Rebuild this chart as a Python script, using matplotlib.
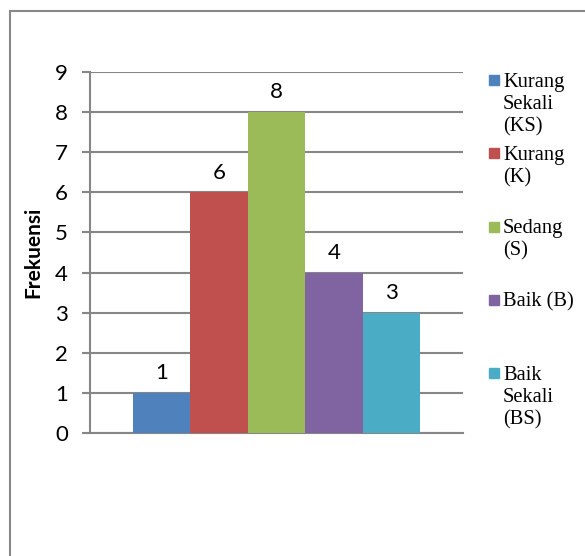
import matplotlib
matplotlib.use("Agg")
import matplotlib.pyplot as plt
from matplotlib.patches import Rectangle

# data
categories = ["Kurang\nSekali\n(KS)", "Kurang\n(K)", "Sedang\n(S)", "Baik (B)", "Baik\nSekali\n(BS)"]
frekuensi = [1, 6, 8, 4, 3]
colors = ["#4F81BD", "#C0504D", "#9BBB59", "#8064A2", "#4BACC6"]
y_ticks = list(range(0, 10))

W, H = 585, 556
fig = plt.figure(figsize=(W / 100, H / 100), dpi=100)
ax = fig.add_axes([90 / W, 1 - 433 / H, 373 / W, 361 / H])

grid_col = "#868686"
bar_w = 0.154
offsets = [(i - 2) * bar_w for i in range(len(frekuensi))]
bars = ax.bar(offsets, frekuensi, width=bar_w, color=colors, zorder=3)
ax.bar_label(bars, labels=[str(v) for v in frekuensi], padding=7,
             fontsize=16, family="Lato", color="black")

ax.set_xlim(-0.5, 0.5)
ax.set_ylim(0, 9)
ax.set_yticks(y_ticks)
ax.set_xticks([])
ax.grid(axis="y", color=grid_col, linewidth=1.5, zorder=0)
for side in ["top", "right"]:
    ax.spines[side].set_visible(False)
for side in ["left", "bottom"]:
    ax.spines[side].set_color(grid_col)
    ax.spines[side].set_linewidth(1.5)
ax.tick_params(axis="y", length=6, width=1.5, color=grid_col, pad=10, labelsize=16)
for lbl in ax.get_yticklabels():
    lbl.set_family("Lato")

ax.set_ylabel("Frekuensi", fontsize=15, fontweight="bold", family="Lato")
ax.yaxis.set_label_coords((43 - 90) / 373, (433 - 252) / 361)

# legend, placed like the Excel one (one text per line)
for i, (lab, col) in enumerate(zip(categories, colors)):
    base = 87 + 73.25 * i
    fig.patches.append(Rectangle((489 / W, 1 - (base - 2) / H), 10 / W, 10 / H,
                                 transform=fig.transFigure, color=col))
    for j, line in enumerate(lab.split("\n")):
        fig.text(503 / W, 1 - (base + 22 * j) / H, line, fontsize=14.8,
                 family="Liberation Serif", va="baseline", ha="left")

# outer chart border
fig.patches.append(Rectangle((9.5 / W, -0.1), 1.2, 1 - 10.5 / H + 0.1,
                             transform=fig.transFigure, fill=False,
                             edgecolor="#888888", linewidth=1.5))

fig.savefig("out.png", dpi=100)
